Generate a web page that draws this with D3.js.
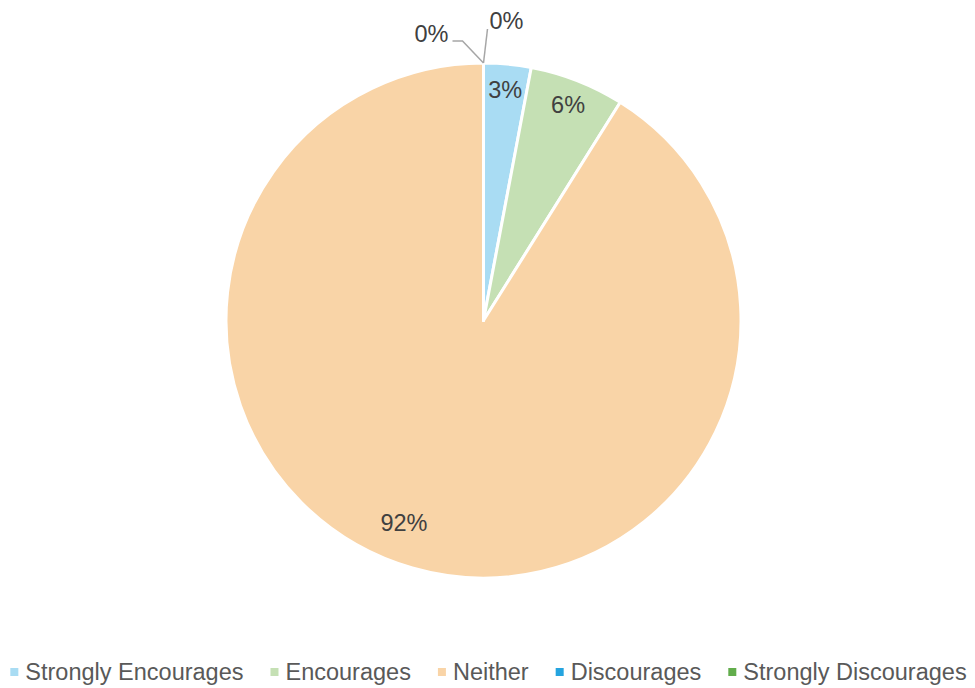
<!DOCTYPE html>
<html><head><meta charset="utf-8">
<script src="https://cdn.jsdelivr.net/npm/d3@7"></script>
<style>html,body{margin:0;padding:0;background:#fff;}svg{display:block;font-family:"Liberation Sans",Arial,sans-serif;}</style>
</head><body>
<svg id="chart" width="975" height="688"></svg>
<script>
const categories = ["Strongly Encourages", "Encourages", "Neither", "Discourages", "Strongly Discourages"];
const values = [3, 6, 92, 0, 0];
const labels = ["3%", "6%", "92%", "0%", "0%"];
const colors = ["#A9DCF3", "#C5E0B4", "#F9D4A7", "#25A4DF", "#62AD4C"];

const svg = d3.select("#chart");
const W = 975, H = 688;
const cx = 483.5, cy = 320.5, R = 257.5;

const pie = d3.pie().sort(null).value(d => d.v);
const data = pie(categories.map((c, i) => ({c, v: values[i], i})));
const arc = d3.arc().innerRadius(0).outerRadius(R);

const g = svg.append("g").attr("transform", `translate(${cx},${cy})`);
g.selectAll("path.slice").data(data).join("path")
  .attr("class", "slice")
  .attr("d", arc)
  .attr("fill", (d, i) => colors[i])
  .attr("stroke", "#fff")
  .attr("stroke-width", 3)
  .attr("stroke-linejoin", "round");

const labelR = 232;
function polar(r, a) { return [r * Math.sin(a), -r * Math.cos(a)]; }
data.forEach((d, i) => {
  let x, y;
  const mid = (d.startAngle + d.endAngle) / 2;
  if (d.value > 0) {
    if (d.endAngle - d.startAngle > Math.PI) {
      [x, y] = polar(217, (201.5 / 180) * Math.PI);
    } else {
      [x, y] = polar(labelR, mid);
    }
    g.append("text").attr("x", x).attr("y", y).attr("dy", "0.35em")
      .attr("text-anchor", "middle").attr("font-size", 23.5).attr("fill", "#404040")
      .text(labels[i]);
  } else {
    const edge = polar(R, d.startAngle);
    let pts, tx, ty, anchor;
    if (i === 3) {
      pts = [edge, [edge[0] - 21, edge[1] - 22], [edge[0] - 31, edge[1] - 22]];
      tx = pts[2][0] - 4; ty = edge[1] - 29; anchor = "end";
    } else {
      pts = [edge, [edge[0] + 4, edge[1] - 34]];
      tx = edge[0] + 6; ty = edge[1] - 42; anchor = "start";
    }
    g.append("polyline").attr("points", pts.map(p => p.join(",")).join(" "))
      .attr("fill", "none").attr("stroke", "#A6A6A6").attr("stroke-width", 1.5);
    g.append("text").attr("x", tx).attr("y", ty).attr("dy", "0.35em")
      .attr("text-anchor", anchor).attr("font-size", 23.5).attr("fill", "#404040")
      .text(labels[i]);
  }
});

const legend = svg.append("g").attr("font-size", 23.5).attr("fill", "#595959");
const legendY = 672, mark = 8, markGap = 7, itemGap = 27;
const items = categories.map((c, i) => {
  const t = legend.append("text").attr("dy", "0.35em").text(c);
  return {t, w: t.node().getComputedTextLength(), i};
});
const total = items.reduce((s, it) => s + mark + markGap + it.w, 0) + itemGap * (items.length - 1);
let x0 = 488.5 - total / 2;
items.forEach(it => {
  legend.append("rect").attr("x", x0).attr("y", legendY - mark / 2).attr("width", mark).attr("height", mark)
    .attr("fill", colors[it.i]);
  it.t.attr("x", x0 + mark + markGap).attr("y", legendY);
  x0 += mark + markGap + it.w + itemGap;
});
</script>
</body></html>
